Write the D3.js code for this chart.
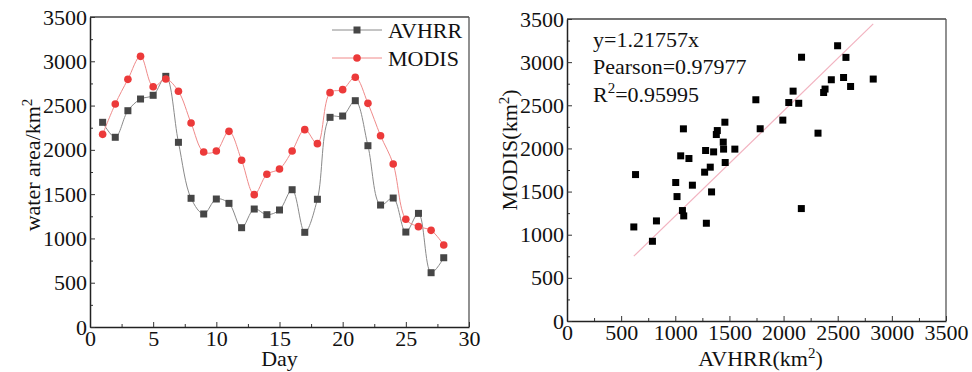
<!DOCTYPE html>
<html>
<head>
<meta charset="utf-8">
<script src="https://cdn.jsdelivr.net/npm/d3@7"></script>
<style>
    body { margin: 0; background: #fff; }
    svg text { font-family: "Liberation Serif", "Times New Roman", serif; fill: #111; }
</style>
</head>
<body>
<svg id="chart"></svg>
<script>

// ---- data ----
const days = [1, 2, 3, 4, 5, 6, 7, 8, 9, 10, 11, 12, 13, 14, 15, 16, 17, 18, 19, 20, 21, 22, 23, 24, 25, 26, 27, 28];
const avhrr = [2311, 2142, 2442, 2574, 2616, 2830, 2085, 1453, 1276, 1445, 1396, 1121, 1332, 1268,
    1321, 1550, 1069, 1442, 2367, 2382, 2555, 2047, 1377, 1456, 1072, 1283, 613, 782];
const modis = [2175, 2518, 2796, 3056, 2713, 2800, 2661, 2303, 1976, 1987, 2209, 1882, 1494, 1724,
    1784, 1987, 2228, 2070, 2646, 2680, 2819, 2525, 2160, 1840, 1216, 1133, 1091, 926];

const scatter_x = [617, 633, 789, 826, 1004, 1016, 1050, 1066, 1078, 1075, 1126, 1158, 1271, 1280,
    1287, 1323, 1335, 1354, 1379, 1388, 1443, 1446, 1458, 1461, 1550, 1744, 1784, 1993, 2048, 2088,
    2140, 2164, 2166, 2318, 2370, 2383, 2441, 2499, 2554, 2576, 2619, 2828];
const scatter_y = [1090, 1697, 924, 1160, 1605, 1442, 1914, 1280, 1218, 2227, 1883, 1574, 1725, 1976,
    1133, 1783, 1496, 1960, 2161, 2207, 2073, 1992, 2304, 1837, 1992, 2564, 2228, 2328, 2532, 2664,
    2523, 1303, 3057, 2177, 2648, 2688, 2796, 3190, 2822, 3055, 2718, 2804];

const slope = 1.21757;
const stat_labels = ["y=1.21757x", "Pearson=0.97977", "0.95995"];

const day_ticks = [0, 5, 10, 15, 20, 25, 30];
const day_minor = [2.5, 7.5, 12.5, 17.5, 22.5, 27.5];
const area_ticks = [0, 500, 1000, 1500, 2000, 2500, 3000, 3500];
const area_minor = [250, 750, 1250, 1750, 2250, 2750, 3250];

const width = 972, height = 372;
const fontSize = 22;

const svg = d3.select("#chart")
    .attr("width", width)
    .attr("height", height);

svg.append("rect").attr("width", width).attr("height", height).attr("fill", "#fff");

// ---------------- left chart ----------------
const left = {x0: 90, x1: 469, y0: 327, y1: 17};

const l_xScale = d3.scaleLinear().domain([0, 30]).range([left.x0, left.x1]);
const l_yScale = d3.scaleLinear().domain([0, 3500]).range([left.y0, left.y1]);

function drawAxes(g, xScale, yScale, xTicks, xMinor, yTicks, yMinor, box) {
    // frame top / right
    g.append("line")
        .attr("x1", box.x0).attr("x2", box.x1).attr("y1", box.y1).attr("y2", box.y1)
        .attr("stroke", "#444").attr("stroke-width", 1.3);
    g.append("line")
        .attr("x1", box.x1).attr("x2", box.x1).attr("y1", box.y1).attr("y2", box.y0)
        .attr("stroke", "#555").attr("stroke-width", 1.3);

    //minor ticks
    g.append("g")
        .attr("transform", "translate(0," + box.y0 + ")")
        .call(d3.axisBottom(xScale).tickValues(xMinor).tickSize(-3).tickFormat(""))
        .call(a => a.select(".domain").remove());
    g.append("g")
        .attr("transform", "translate(" + box.x0 + ",0)")
        .call(d3.axisLeft(yScale).tickValues(yMinor).tickSize(-3).tickFormat(""))
        .call(a => a.select(".domain").remove());

    //major axes
    const xa = g.append("g")
        .attr("class", "x-axis")
        .attr("transform", "translate(0," + box.y0 + ")")
        .call(d3.axisBottom(xScale).tickValues(xTicks).tickFormat(d3.format("d"))
            .tickSizeInner(-5).tickSizeOuter(0).tickPadding(3));
    const ya = g.append("g")
        .attr("class", "y-axis")
        .attr("transform", "translate(" + box.x0 + ",0)")
        .call(d3.axisLeft(yScale).tickValues(yTicks).tickFormat(d3.format("d"))
            .tickSizeInner(-5).tickSizeOuter(0).tickPadding(3));

    [xa, ya].forEach(function (a) {
        a.selectAll("text").style("font-size", fontSize + "px").attr("fill", "#111")
            .style("font-family", "'Liberation Serif', 'Times New Roman', serif");
        a.select(".domain").attr("stroke", "#222").attr("stroke-width", 1.5);
    });
    g.selectAll(".tick line").attr("stroke", "#333");
}

const g_left = svg.append("g");
drawAxes(g_left, l_xScale, l_yScale, day_ticks, day_minor, area_ticks, area_minor, left);

const line_avhrr = d3.line()
    .x(function (d, i) { return l_xScale(days[i]); })
    .y(function (d) { return l_yScale(d); })
    .curve(d3.curveCatmullRom);

g_left.append("path")
    .attr("d", line_avhrr(avhrr))
    .attr("fill", "none")
    .attr("stroke", "#8a8a8a")
    .attr("stroke-width", 1);

g_left.append("path")
    .attr("d", line_avhrr(modis))
    .attr("fill", "none")
    .attr("stroke", "#f08a8a")
    .attr("stroke-width", 1);

g_left.selectAll(".sq")
    .data(avhrr)
    .enter().append("rect")
    .attr("class", "sq")
    .attr("x", function (d, i) { return l_xScale(days[i]) - 3.5; })
    .attr("y", function (d) { return l_yScale(d) - 3.5; })
    .attr("width", 7).attr("height", 7)
    .attr("fill", "#464646");

g_left.selectAll(".dot")
    .data(modis)
    .enter().append("circle")
    .attr("class", "dot")
    .attr("cx", function (d, i) { return l_xScale(days[i]); })
    .attr("cy", function (d) { return l_yScale(d); })
    .attr("r", 3.8)
    .attr("fill", "#ec3a3a");

// legend
const legend = g_left.append("g");
[{name: "AVHRR", y: 30, color: "#8a8a8a"}, {name: "MODIS", y: 58, color: "#f08a8a"}].forEach(function (d, i) {
    legend.append("line")
        .attr("x1", 332).attr("x2", 382).attr("y1", d.y).attr("y2", d.y)
        .attr("stroke", d.color).attr("stroke-width", 1);
    if (i === 0) {
        legend.append("rect").attr("x", 353.5).attr("y", d.y - 3.5).attr("width", 7).attr("height", 7).attr("fill", "#464646");
    } else {
        legend.append("circle").attr("cx", 357).attr("cy", d.y).attr("r", 3.8).attr("fill", "#ec3a3a");
    }
    legend.append("text")
        .attr("x", 388).attr("y", d.y + 8)
        .style("font-size", fontSize + "px")
        .text(d.name);
});

// axis titles
g_left.append("text")
    .attr("x", (left.x0 + left.x1) / 2).attr("y", 366)
    .attr("text-anchor", "middle")
    .style("font-size", fontSize + "px")
    .text("Day");

const l_ytitle = g_left.append("text")
    .attr("transform", "translate(40,165) rotate(-90)")
    .attr("text-anchor", "middle")
    .style("font-size", fontSize + "px");
l_ytitle.append("tspan").text("water area/km");
l_ytitle.append("tspan").attr("dy", -8).style("font-size", "15px").text("2");

// ---------------- right chart ----------------
const right = {x0: 567, x1: 946, y0: 321, y1: 19};

const r_xScale = d3.scaleLinear().domain([0, 3500]).range([right.x0, right.x1]);
const r_yScale = d3.scaleLinear().domain([0, 3500]).range([right.y0, right.y1]);

const g_right = svg.append("g");
drawAxes(g_right, r_xScale, r_yScale, area_ticks, area_minor, area_ticks, area_minor, right);

const x_ext = d3.extent(scatter_x);
g_right.append("line")
    .attr("x1", r_xScale(x_ext[0])).attr("y1", r_yScale(x_ext[0] * slope))
    .attr("x2", r_xScale(x_ext[1])).attr("y2", r_yScale(x_ext[1] * slope))
    .attr("stroke", "#f2b3c0")
    .attr("stroke-width", 1.2);

g_right.selectAll(".pt")
    .data(scatter_x)
    .enter().append("rect")
    .attr("class", "pt")
    .attr("x", function (d) { return r_xScale(d) - 3.5; })
    .attr("y", function (d, i) { return r_yScale(scatter_y[i]) - 3.5; })
    .attr("width", 7).attr("height", 7)
    .attr("fill", "#000");

// statistics text
g_right.append("text").attr("x", 593).attr("y", 47).style("font-size", fontSize + "px").text(stat_labels[0]);
g_right.append("text").attr("x", 593).attr("y", 74).style("font-size", fontSize + "px").text(stat_labels[1]);
const r2 = g_right.append("text").attr("x", 593).attr("y", 102).style("font-size", fontSize + "px");
r2.append("tspan").text("R");
r2.append("tspan").attr("dy", -9).style("font-size", "15px").text("2");
r2.append("tspan").attr("dy", 9).text("=" + stat_labels[2]);

const r_xtitle = g_right.append("text")
    .attr("x", (right.x0 + right.x1) / 2 + 4).attr("y", 366)
    .attr("text-anchor", "middle")
    .style("font-size", fontSize + "px");
r_xtitle.append("tspan").text("AVHRR(km");
r_xtitle.append("tspan").attr("dy", -8).style("font-size", "15px").text("2");
r_xtitle.append("tspan").attr("dy", 8).text(")");

const r_ytitle = g_right.append("text")
    .attr("transform", "translate(517,150) rotate(-90)")
    .attr("text-anchor", "middle")
    .style("font-size", fontSize + "px");
r_ytitle.append("tspan").text("MODIS(km");
r_ytitle.append("tspan").attr("dy", -8).style("font-size", "15px").text("2");
r_ytitle.append("tspan").attr("dy", 8).text(")");

</script>
</body>
</html>
